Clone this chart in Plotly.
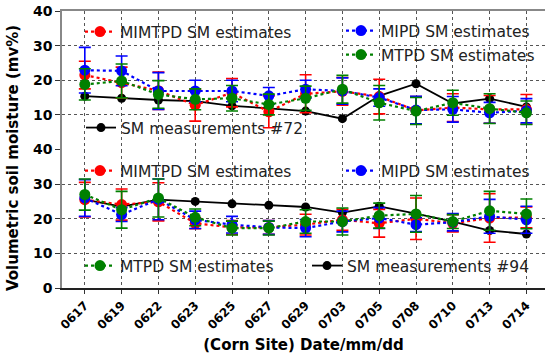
import plotly.graph_objects as go
from plotly.subplots import make_subplots

dates = ["0617","0619","0622","0623","0625","0627","0629","0703","0705","0708","0710","0713","0714"]

top_sm = [15.4,14.8,14.3,14.0,12.6,11.9,11.1,8.9,15.5,19.0,13.3,14.7,12.3]
top_mimtpd = [21.5,19.3,17.0,12.8,16.4,10.9,16.1,16.8,15.3,11.3,12.1,11.6,11.6]
top_mimtpd_err = [4.0,4.5,5.4,4.6,4.1,4.6,5.5,4.0,5.0,4.0,4.0,4.0,4.3]
top_mipd = [22.9,22.7,16.9,16.9,16.9,15.5,17.4,16.9,15.0,11.4,11.6,10.6,11.2]
top_mipd_err = [6.6,4.3,5.3,3.1,3.1,2.4,2.6,3.8,2.5,4.0,3.7,3.0,3.5]
top_mtpd = [18.8,19.8,15.9,14.5,14.8,13.0,14.8,17.4,13.5,11.1,13.5,11.8,10.6]
top_mtpd_err = [4.5,4.9,4.0,3.0,3.7,3.0,3.5,4.0,5.0,3.9,3.6,4.3,3.4]

bot_sm = [25.5,23.5,25.5,25.0,24.3,23.9,23.4,21.8,23.6,21.5,19.2,16.6,15.6]
bot_mimtpd = [25.5,24.1,24.9,18.7,17.5,17.5,18.3,19.7,18.7,20.0,18.7,20.2,20.4]
bot_mimtpd_err = [5.0,4.5,5.5,1.6,2.0,2.0,3.0,3.0,4.0,6.0,2.5,7.0,3.0]
bot_mipd = [26.0,21.2,25.6,19.7,18.3,17.5,17.3,19.2,20.2,18.3,19.0,20.7,19.7]
bot_mipd_err = [5.3,2.0,5.9,2.5,2.4,2.0,2.5,3.0,3.0,2.0,2.5,4.9,3.9]
bot_mtpd = [27.0,22.6,26.0,20.4,17.3,17.3,19.2,19.2,20.9,21.4,19.2,22.3,21.4]
bot_mtpd_err = [4.5,5.3,5.5,2.4,2.0,2.0,3.4,3.9,3.6,5.3,2.0,5.6,4.3]

W, H = 545, 360
L, T, B = 62, 11, 288
x = list(range(len(dates)))

def px(xp, yp):
    return (xp - L) / (W - L), (B - yp) / (B - T)

fig = make_subplots(rows=2, cols=1, shared_xaxes=True, vertical_spacing=0)

RED, BLUE, GREEN = "#ff0000", "#0000ff", "#008000"

def est(y, err, color, name, row, legend):
    fig.add_trace(go.Scatter(
        x=x, y=y, name=name, mode="lines+markers", legend=legend, showlegend=True,
        line=dict(color=color, width=2.2, dash="dot"),
        marker=dict(color=color, size=11),
        error_y=dict(type="data", array=err, visible=True, color=color, thickness=1.6, width=6),
    ), row=row, col=1)

def meas(y, name, row, legend):
    fig.add_trace(go.Scatter(
        x=x, y=y, name=name, mode="lines+markers", legend=legend, showlegend=True,
        line=dict(color="black", width=1.8), marker=dict(color="black", size=9),
    ), row=row, col=1)

meas(top_sm, "SM measurements #72", 1, "legend3")
est(top_mimtpd, top_mimtpd_err, RED, "MIMTPD SM estimates", 1, "legend")
est(top_mipd, top_mipd_err, BLUE, "MIPD SM estimates", 1, "legend2")
est(top_mtpd, top_mtpd_err, GREEN, "MTPD SM estimates", 1, "legend8")

meas(bot_sm, "SM measurements #94", 2, "legend7")
est(bot_mimtpd, bot_mimtpd_err, RED, "MIMTPD SM estimates", 2, "legend4")
est(bot_mipd, bot_mipd_err, BLUE, "MIPD SM estimates", 2, "legend5")
est(bot_mtpd, bot_mtpd_err, GREEN, "MTPD SM estimates", 2, "legend6")

lfont = dict(family="DejaVu Sans", size=15.5, color="#222")
def leg(xp, yp, anchor="left"):
    lx, ly = px(xp, yp)
    return dict(x=lx, y=ly, xanchor=anchor, yanchor="middle", font=lfont,
                bgcolor="rgba(0,0,0,0)", itemwidth=30, tracegroupgap=0)

fig.update_layout(
    width=W, height=H,
    showlegend=True,
    margin=dict(l=L, r=0, t=T, b=H - B, autoexpand=False),
    plot_bgcolor="white", paper_bgcolor="white",
    legend=leg(80, 32),
    legend2=leg(341, 31),
    legend8=leg(341, 55),
    legend3=leg(81, 128),
    legend4=leg(80, 171),
    legend5=leg(341, 171),
    legend6=leg(80, 266),
    legend7=leg(307, 266),
    font=dict(family="DejaVu Sans", color="black"),
)

span = (W - L) / 36.8
xr = [-0.62, -0.62 + span]
grid = dict(showgrid=True, gridcolor="#555", griddash="dot", gridwidth=1)
fig.update_xaxes(range=xr, tickvals=x, ticktext=dates, **grid,
                 showline=True, linecolor="#888", linewidth=1.5, mirror=False,
                 ticks="outside", ticklen=4, tickcolor="#333",
                 tickfont=dict(family="DejaVu Sans", size=12, weight="bold"), tickangle=-45,
                 zeroline=False)
fig.update_xaxes(row=2, col=1, linecolor="#222",
                 title=dict(text="<b>(Corn Site) Date/mm/dd</b>", font=dict(size=15), standoff=8))
fig.update_xaxes(row=1, col=1, showline=True, side="top", ticks="", showticklabels=False)

yax = dict(range=[0, 40], **grid, zeroline=False, showline=True, linecolor="#888", linewidth=1.5,
           ticks="outside", ticklen=5, tickcolor="#333",
           tickfont=dict(family="DejaVu Sans", size=14, weight="bold"))
fig.update_yaxes(row=1, col=1, tickvals=[10, 20, 30, 40], **yax)
fig.update_yaxes(row=2, col=1, tickvals=[0, 10, 20, 30, 40], **yax)

fig.add_annotation(text="<b>Volumetric soil moisture (mv%)</b>", xref="paper", yref="paper",
                   x=px(13, 0)[0], y=px(0, 158)[1], textangle=-90, showarrow=False,
                   font=dict(family="DejaVu Sans", size=15, color="black"), xanchor="center", yanchor="middle")

fig.write_html("out.html")
